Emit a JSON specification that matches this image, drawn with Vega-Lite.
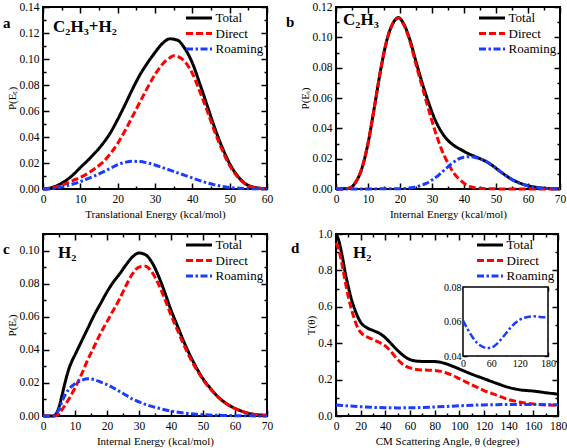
{
  "$schema": "https://vega.github.io/schema/vega-lite/v6.json",
  "padding": {"left": 2, "top": 0, "right": 0, "bottom": 0},
  "bounds": "flush",
  "columns": 2,
  "spacing": {"column": 69, "row": 45},
  "resolve": {"legend": {"color": "independent", "strokeDash": "independent"}, "scale": {"color": "independent", "strokeDash": "independent"}},
  "config": {
    "font": "Liberation Serif",
    "view": {"stroke": "#000", "strokeWidth": 2},
    "axis": {"labelFont": "Liberation Serif", "labelFontSize": 11.5, "labelColor": "#000", "titleFont": "Liberation Serif", "titleFontSize": 11, "titleFontWeight": "normal", "titleColor": "#000", "domain": false, "grid": false, "tickColor": "#000", "tickWidth": 1.5, "labelPadding": 10, "titlePadding": 1, "labelOverlap": false, "labelFlush": false},
    "axisTop": {"labels": false},
    "axisRight": {"labels": false},
    "legend": {"labelFont": "Liberation Serif", "labelFontSize": 13, "labelColor": "#000", "symbolType": "M-2,0H2", "symbolStrokeWidth": 3, "symbolSize": 169, "rowPadding": 0.5, "labelOffset": 8.5, "padding": 0, "offset": 3},
    "text": {"font": "Liberation Serif", "fontWeight": "bold", "align": "left", "baseline": "middle"}
  },
  "datasets": {
    "a": [
      {"x":0,"y":0,"s":"Total"},{"x":2,"y":0.0008,"s":"Total"},{"x":4,"y":0.003,"s":"Total"},{"x":6,"y":0.0062,"s":"Total"},{"x":8,"y":0.0108,"s":"Total"},{"x":10,"y":0.0165,"s":"Total"},{"x":12,"y":0.022,"s":"Total"},{"x":14,"y":0.028,"s":"Total"},{"x":16,"y":0.0348,"s":"Total"},{"x":18,"y":0.043,"s":"Total"},{"x":20,"y":0.0535,"s":"Total"},{"x":22,"y":0.065,"s":"Total"},{"x":24,"y":0.077,"s":"Total"},{"x":26,"y":0.088,"s":"Total"},{"x":28,"y":0.097,"s":"Total"},{"x":30,"y":0.105,"s":"Total"},{"x":32,"y":0.112,"s":"Total"},{"x":34,"y":0.1155,"s":"Total"},{"x":36,"y":0.1145,"s":"Total"},{"x":38,"y":0.108,"s":"Total"},{"x":40,"y":0.097,"s":"Total"},{"x":42,"y":0.081,"s":"Total"},{"x":44,"y":0.064,"s":"Total"},{"x":46,"y":0.047,"s":"Total"},{"x":48,"y":0.032,"s":"Total"},{"x":50,"y":0.0195,"s":"Total"},{"x":52,"y":0.0105,"s":"Total"},{"x":54,"y":0.0045,"s":"Total"},{"x":56,"y":0.0017,"s":"Total"},{"x":58,"y":0.0006,"s":"Total"},{"x":60,"y":0.0002,"s":"Total"},
      {"x":0,"y":0,"s":"Direct"},{"x":2,"y":0.0005,"s":"Direct"},{"x":4,"y":0.002,"s":"Direct"},{"x":6,"y":0.004,"s":"Direct"},{"x":8,"y":0.0065,"s":"Direct"},{"x":10,"y":0.009,"s":"Direct"},{"x":12,"y":0.012,"s":"Direct"},{"x":14,"y":0.016,"s":"Direct"},{"x":16,"y":0.0205,"s":"Direct"},{"x":18,"y":0.027,"s":"Direct"},{"x":20,"y":0.035,"s":"Direct"},{"x":22,"y":0.045,"s":"Direct"},{"x":24,"y":0.056,"s":"Direct"},{"x":26,"y":0.067,"s":"Direct"},{"x":28,"y":0.078,"s":"Direct"},{"x":30,"y":0.088,"s":"Direct"},{"x":32,"y":0.096,"s":"Direct"},{"x":34,"y":0.101,"s":"Direct"},{"x":35,"y":0.1025,"s":"Direct"},{"x":36,"y":0.102,"s":"Direct"},{"x":38,"y":0.098,"s":"Direct"},{"x":40,"y":0.089,"s":"Direct"},{"x":42,"y":0.075,"s":"Direct"},{"x":44,"y":0.06,"s":"Direct"},{"x":46,"y":0.044,"s":"Direct"},{"x":48,"y":0.03,"s":"Direct"},{"x":50,"y":0.018,"s":"Direct"},{"x":52,"y":0.0098,"s":"Direct"},{"x":54,"y":0.0042,"s":"Direct"},{"x":56,"y":0.0015,"s":"Direct"},{"x":58,"y":0.0005,"s":"Direct"},{"x":60,"y":0.0002,"s":"Direct"},
      {"x":0,"y":0,"s":"Roaming"},{"x":2,"y":0.0003,"s":"Roaming"},{"x":4,"y":0.001,"s":"Roaming"},{"x":6,"y":0.0022,"s":"Roaming"},{"x":8,"y":0.0038,"s":"Roaming"},{"x":10,"y":0.0057,"s":"Roaming"},{"x":12,"y":0.0079,"s":"Roaming"},{"x":14,"y":0.0103,"s":"Roaming"},{"x":16,"y":0.013,"s":"Roaming"},{"x":18,"y":0.0158,"s":"Roaming"},{"x":20,"y":0.0187,"s":"Roaming"},{"x":22,"y":0.0205,"s":"Roaming"},{"x":24,"y":0.0213,"s":"Roaming"},{"x":26,"y":0.0211,"s":"Roaming"},{"x":28,"y":0.02,"s":"Roaming"},{"x":30,"y":0.0185,"s":"Roaming"},{"x":32,"y":0.0165,"s":"Roaming"},{"x":34,"y":0.0145,"s":"Roaming"},{"x":36,"y":0.0125,"s":"Roaming"},{"x":38,"y":0.0105,"s":"Roaming"},{"x":40,"y":0.0085,"s":"Roaming"},{"x":42,"y":0.0065,"s":"Roaming"},{"x":44,"y":0.0047,"s":"Roaming"},{"x":46,"y":0.0032,"s":"Roaming"},{"x":48,"y":0.002,"s":"Roaming"},{"x":50,"y":0.0012,"s":"Roaming"},{"x":52,"y":0.0007,"s":"Roaming"},{"x":54,"y":0.0004,"s":"Roaming"},{"x":56,"y":0.0002,"s":"Roaming"},{"x":58,"y":0.0001,"s":"Roaming"},{"x":60,"y":0,"s":"Roaming"}
    ],
    "b": [
      {"x":0,"y":0,"s":"Total"},{"x":4,"y":0.0005,"s":"Total"},{"x":5,"y":0.0015,"s":"Total"},{"x":6,"y":0.004,"s":"Total"},{"x":8,"y":0.013,"s":"Total"},{"x":10,"y":0.03,"s":"Total"},{"x":12,"y":0.054,"s":"Total"},{"x":14,"y":0.079,"s":"Total"},{"x":16,"y":0.099,"s":"Total"},{"x":18,"y":0.11,"s":"Total"},{"x":19.5,"y":0.113,"s":"Total"},{"x":21,"y":0.1095,"s":"Total"},{"x":23,"y":0.099,"s":"Total"},{"x":25,"y":0.084,"s":"Total"},{"x":27,"y":0.0695,"s":"Total"},{"x":29,"y":0.0565,"s":"Total"},{"x":31,"y":0.0455,"s":"Total"},{"x":33,"y":0.0375,"s":"Total"},{"x":35,"y":0.032,"s":"Total"},{"x":37,"y":0.0285,"s":"Total"},{"x":39,"y":0.026,"s":"Total"},{"x":41,"y":0.0237,"s":"Total"},{"x":43,"y":0.0218,"s":"Total"},{"x":45,"y":0.02,"s":"Total"},{"x":47,"y":0.018,"s":"Total"},{"x":49,"y":0.0153,"s":"Total"},{"x":51,"y":0.012,"s":"Total"},{"x":53,"y":0.009,"s":"Total"},{"x":55,"y":0.0063,"s":"Total"},{"x":58,"y":0.0035,"s":"Total"},{"x":60,"y":0.0022,"s":"Total"},{"x":62,"y":0.0013,"s":"Total"},{"x":65,"y":0.0005,"s":"Total"},{"x":70,"y":0.0001,"s":"Total"},
      {"x":0,"y":0,"s":"Direct"},{"x":4,"y":0.0005,"s":"Direct"},{"x":5,"y":0.0015,"s":"Direct"},{"x":6,"y":0.004,"s":"Direct"},{"x":8,"y":0.013,"s":"Direct"},{"x":10,"y":0.03,"s":"Direct"},{"x":12,"y":0.054,"s":"Direct"},{"x":14,"y":0.079,"s":"Direct"},{"x":16,"y":0.099,"s":"Direct"},{"x":18,"y":0.11,"s":"Direct"},{"x":19.5,"y":0.1128,"s":"Direct"},{"x":21,"y":0.109,"s":"Direct"},{"x":23,"y":0.098,"s":"Direct"},{"x":25,"y":0.082,"s":"Direct"},{"x":27,"y":0.067,"s":"Direct"},{"x":29,"y":0.052,"s":"Direct"},{"x":31,"y":0.038,"s":"Direct"},{"x":33,"y":0.026,"s":"Direct"},{"x":35,"y":0.017,"s":"Direct"},{"x":37,"y":0.01,"s":"Direct"},{"x":39,"y":0.0055,"s":"Direct"},{"x":41,"y":0.0025,"s":"Direct"},{"x":43,"y":0.001,"s":"Direct"},{"x":46,"y":0.0003,"s":"Direct"},{"x":50,"y":0.0001,"s":"Direct"},{"x":55,"y":0,"s":"Direct"},{"x":70,"y":0,"s":"Direct"},
      {"x":0,"y":0,"s":"Roaming"},{"x":20,"y":0.0002,"s":"Roaming"},{"x":24,"y":0.001,"s":"Roaming"},{"x":26,"y":0.002,"s":"Roaming"},{"x":28,"y":0.0035,"s":"Roaming"},{"x":30,"y":0.006,"s":"Roaming"},{"x":32,"y":0.009,"s":"Roaming"},{"x":34,"y":0.0128,"s":"Roaming"},{"x":36,"y":0.0165,"s":"Roaming"},{"x":38,"y":0.0195,"s":"Roaming"},{"x":40,"y":0.021,"s":"Roaming"},{"x":42,"y":0.0213,"s":"Roaming"},{"x":44,"y":0.0205,"s":"Roaming"},{"x":46,"y":0.019,"s":"Roaming"},{"x":48,"y":0.0168,"s":"Roaming"},{"x":50,"y":0.0138,"s":"Roaming"},{"x":52,"y":0.0105,"s":"Roaming"},{"x":54,"y":0.0075,"s":"Roaming"},{"x":56,"y":0.005,"s":"Roaming"},{"x":58,"y":0.0033,"s":"Roaming"},{"x":60,"y":0.002,"s":"Roaming"},{"x":62,"y":0.0012,"s":"Roaming"},{"x":65,"y":0.0005,"s":"Roaming"},{"x":70,"y":0.0001,"s":"Roaming"}
    ],
    "c": [
      {"x":0,"y":0,"s":"Total"},{"x":3,"y":0,"s":"Total"},{"x":4,"y":0.001,"s":"Total"},{"x":5,"y":0.0055,"s":"Total"},{"x":6,"y":0.013,"s":"Total"},{"x":7,"y":0.021,"s":"Total"},{"x":8,"y":0.028,"s":"Total"},{"x":9,"y":0.033,"s":"Total"},{"x":10,"y":0.037,"s":"Total"},{"x":12,"y":0.045,"s":"Total"},{"x":14,"y":0.053,"s":"Total"},{"x":16,"y":0.061,"s":"Total"},{"x":18,"y":0.068,"s":"Total"},{"x":20,"y":0.075,"s":"Total"},{"x":22,"y":0.081,"s":"Total"},{"x":24,"y":0.086,"s":"Total"},{"x":26,"y":0.0915,"s":"Total"},{"x":28,"y":0.0962,"s":"Total"},{"x":30,"y":0.0985,"s":"Total"},{"x":32,"y":0.0975,"s":"Total"},{"x":34,"y":0.093,"s":"Total"},{"x":36,"y":0.085,"s":"Total"},{"x":38,"y":0.075,"s":"Total"},{"x":40,"y":0.064,"s":"Total"},{"x":42,"y":0.0545,"s":"Total"},{"x":44,"y":0.045,"s":"Total"},{"x":46,"y":0.0365,"s":"Total"},{"x":48,"y":0.029,"s":"Total"},{"x":50,"y":0.0225,"s":"Total"},{"x":52,"y":0.0175,"s":"Total"},{"x":55,"y":0.011,"s":"Total"},{"x":58,"y":0.0067,"s":"Total"},{"x":60,"y":0.0046,"s":"Total"},{"x":62,"y":0.003,"s":"Total"},{"x":65,"y":0.0013,"s":"Total"},{"x":68,"y":0.0006,"s":"Total"},{"x":70,"y":0.0004,"s":"Total"},
      {"x":0,"y":0,"s":"Direct"},{"x":4,"y":0,"s":"Direct"},{"x":5,"y":0.0015,"s":"Direct"},{"x":6,"y":0.004,"s":"Direct"},{"x":8,"y":0.01,"s":"Direct"},{"x":10,"y":0.017,"s":"Direct"},{"x":12,"y":0.025,"s":"Direct"},{"x":14,"y":0.034,"s":"Direct"},{"x":16,"y":0.042,"s":"Direct"},{"x":18,"y":0.05,"s":"Direct"},{"x":20,"y":0.057,"s":"Direct"},{"x":22,"y":0.064,"s":"Direct"},{"x":24,"y":0.071,"s":"Direct"},{"x":26,"y":0.079,"s":"Direct"},{"x":28,"y":0.086,"s":"Direct"},{"x":30,"y":0.09,"s":"Direct"},{"x":32,"y":0.0905,"s":"Direct"},{"x":34,"y":0.087,"s":"Direct"},{"x":36,"y":0.08,"s":"Direct"},{"x":38,"y":0.071,"s":"Direct"},{"x":40,"y":0.061,"s":"Direct"},{"x":42,"y":0.052,"s":"Direct"},{"x":44,"y":0.043,"s":"Direct"},{"x":46,"y":0.035,"s":"Direct"},{"x":48,"y":0.028,"s":"Direct"},{"x":50,"y":0.022,"s":"Direct"},{"x":52,"y":0.017,"s":"Direct"},{"x":55,"y":0.011,"s":"Direct"},{"x":58,"y":0.0065,"s":"Direct"},{"x":60,"y":0.0045,"s":"Direct"},{"x":62,"y":0.003,"s":"Direct"},{"x":65,"y":0.0013,"s":"Direct"},{"x":68,"y":0.0006,"s":"Direct"},{"x":70,"y":0.0004,"s":"Direct"},
      {"x":0,"y":0,"s":"Roaming"},{"x":3,"y":0,"s":"Roaming"},{"x":4,"y":0.001,"s":"Roaming"},{"x":5,"y":0.004,"s":"Roaming"},{"x":6,"y":0.009,"s":"Roaming"},{"x":7,"y":0.013,"s":"Roaming"},{"x":8,"y":0.016,"s":"Roaming"},{"x":10,"y":0.0195,"s":"Roaming"},{"x":12,"y":0.0215,"s":"Roaming"},{"x":14,"y":0.0225,"s":"Roaming"},{"x":16,"y":0.022,"s":"Roaming"},{"x":18,"y":0.0205,"s":"Roaming"},{"x":20,"y":0.019,"s":"Roaming"},{"x":22,"y":0.017,"s":"Roaming"},{"x":24,"y":0.0148,"s":"Roaming"},{"x":26,"y":0.0125,"s":"Roaming"},{"x":28,"y":0.0102,"s":"Roaming"},{"x":30,"y":0.0085,"s":"Roaming"},{"x":32,"y":0.007,"s":"Roaming"},{"x":34,"y":0.0058,"s":"Roaming"},{"x":36,"y":0.0048,"s":"Roaming"},{"x":38,"y":0.0038,"s":"Roaming"},{"x":40,"y":0.003,"s":"Roaming"},{"x":44,"y":0.0018,"s":"Roaming"},{"x":48,"y":0.001,"s":"Roaming"},{"x":52,"y":0.0006,"s":"Roaming"},{"x":56,"y":0.0003,"s":"Roaming"},{"x":60,"y":0.0002,"s":"Roaming"},{"x":65,"y":0.0001,"s":"Roaming"},{"x":70,"y":0,"s":"Roaming"}
    ],
    "d": [
      {"x":0,"y":1,"s":"Total"},{"x":2,"y":0.97,"s":"Total"},{"x":5,"y":0.88,"s":"Total"},{"x":8,"y":0.77,"s":"Total"},{"x":10,"y":0.71,"s":"Total"},{"x":12,"y":0.655,"s":"Total"},{"x":15,"y":0.59,"s":"Total"},{"x":18,"y":0.54,"s":"Total"},{"x":20,"y":0.515,"s":"Total"},{"x":25,"y":0.485,"s":"Total"},{"x":30,"y":0.47,"s":"Total"},{"x":35,"y":0.455,"s":"Total"},{"x":40,"y":0.43,"s":"Total"},{"x":45,"y":0.395,"s":"Total"},{"x":50,"y":0.36,"s":"Total"},{"x":55,"y":0.33,"s":"Total"},{"x":60,"y":0.31,"s":"Total"},{"x":65,"y":0.302,"s":"Total"},{"x":70,"y":0.3,"s":"Total"},{"x":75,"y":0.3,"s":"Total"},{"x":80,"y":0.299,"s":"Total"},{"x":85,"y":0.295,"s":"Total"},{"x":90,"y":0.285,"s":"Total"},{"x":95,"y":0.272,"s":"Total"},{"x":100,"y":0.258,"s":"Total"},{"x":110,"y":0.23,"s":"Total"},{"x":120,"y":0.205,"s":"Total"},{"x":130,"y":0.18,"s":"Total"},{"x":140,"y":0.157,"s":"Total"},{"x":150,"y":0.143,"s":"Total"},{"x":160,"y":0.137,"s":"Total"},{"x":170,"y":0.128,"s":"Total"},{"x":180,"y":0.12,"s":"Total"},
      {"x":0,"y":0.95,"s":"Direct"},{"x":2,"y":0.92,"s":"Direct"},{"x":5,"y":0.83,"s":"Direct"},{"x":8,"y":0.72,"s":"Direct"},{"x":10,"y":0.655,"s":"Direct"},{"x":12,"y":0.6,"s":"Direct"},{"x":15,"y":0.53,"s":"Direct"},{"x":18,"y":0.48,"s":"Direct"},{"x":20,"y":0.46,"s":"Direct"},{"x":25,"y":0.435,"s":"Direct"},{"x":30,"y":0.42,"s":"Direct"},{"x":35,"y":0.405,"s":"Direct"},{"x":40,"y":0.385,"s":"Direct"},{"x":45,"y":0.35,"s":"Direct"},{"x":50,"y":0.31,"s":"Direct"},{"x":55,"y":0.28,"s":"Direct"},{"x":60,"y":0.264,"s":"Direct"},{"x":65,"y":0.256,"s":"Direct"},{"x":70,"y":0.253,"s":"Direct"},{"x":75,"y":0.252,"s":"Direct"},{"x":80,"y":0.25,"s":"Direct"},{"x":85,"y":0.245,"s":"Direct"},{"x":90,"y":0.235,"s":"Direct"},{"x":95,"y":0.222,"s":"Direct"},{"x":100,"y":0.205,"s":"Direct"},{"x":110,"y":0.172,"s":"Direct"},{"x":120,"y":0.14,"s":"Direct"},{"x":130,"y":0.115,"s":"Direct"},{"x":140,"y":0.09,"s":"Direct"},{"x":150,"y":0.075,"s":"Direct"},{"x":160,"y":0.066,"s":"Direct"},{"x":170,"y":0.061,"s":"Direct"},{"x":180,"y":0.058,"s":"Direct"},
      {"x":0,"y":0.0605,"s":"Roaming"},{"x":10,"y":0.0555,"s":"Roaming"},{"x":20,"y":0.051,"s":"Roaming"},{"x":30,"y":0.0475,"s":"Roaming"},{"x":40,"y":0.0456,"s":"Roaming"},{"x":50,"y":0.0446,"s":"Roaming"},{"x":60,"y":0.0449,"s":"Roaming"},{"x":70,"y":0.0466,"s":"Roaming"},{"x":80,"y":0.0495,"s":"Roaming"},{"x":90,"y":0.0528,"s":"Roaming"},{"x":100,"y":0.0562,"s":"Roaming"},{"x":110,"y":0.059,"s":"Roaming"},{"x":120,"y":0.061,"s":"Roaming"},{"x":130,"y":0.0622,"s":"Roaming"},{"x":140,"y":0.0628,"s":"Roaming"},{"x":150,"y":0.063,"s":"Roaming"},{"x":160,"y":0.0628,"s":"Roaming"},{"x":170,"y":0.0625,"s":"Roaming"},{"x":180,"y":0.0625,"s":"Roaming"}
    ]
  },
  "concat": [
    {
      "width": 224, "height": 182,
      "layer": [
        {"data": {"name": "a"}, "mark": {"type": "line", "interpolate": "monotone", "strokeWidth": 3},
         "encoding": {
           "x": {"field": "x", "type": "quantitative", "scale": {"domain": [0, 60], "nice": false}, "axis": {"orient": "bottom", "values": [0,5,10,15,20,25,30,35,40,45,50,55,60], "tickSize": {"condition": {"test": "datum.value % 10 !== 0", "value": -3}, "value": -6}, "labelExpr": "datum.value % 10 === 0 ? datum.label : ''", "labelPadding": 10, "title": "Translational Energy (kcal/mol)"}},
           "y": {"field": "y", "type": "quantitative", "scale": {"domain": [0, 0.14], "nice": false}, "axis": {"orient": "left", "values": [0,0.01,0.02,0.03,0.04,0.05,0.06,0.07,0.08,0.09,0.1,0.11,0.12,0.13,0.14], "format": ".2f", "tickSize": {"condition": {"test": "round(datum.value*100) % 2 !== 0", "value": -3}, "value": -6}, "labelExpr": "round(datum.value*100) % 2 === 0 ? datum.label : ''", "title": "P(Eₜ)"}},
           "color": {"field": "s", "type": "nominal", "scale": {"domain": ["Total", "Direct", "Roaming"], "range": ["#000000", "#ff0000", "#1a3cff"]}, "legend": {"title": null, "orient": "top-right"}},
           "strokeDash": {"field": "s", "type": "nominal", "scale": {"domain": ["Total", "Direct", "Roaming"], "range": [[1, 0], [7, 3], [7, 2.5, 2.5, 2.5]]}, "legend": {"title": null, "orient": "top-right"}}
         }},
        {"data": {"name": "a"}, "mark": {"type": "point", "opacity": 0},
         "encoding": {
           "x": {"field": "x", "type": "quantitative", "scale": {"domain": [0, 60], "nice": false}, "axis": {"orient": "top", "title": null, "values": [0,5,10,15,20,25,30,35,40,45,50,55,60], "tickSize": {"condition": {"test": "datum.value % 10 !== 0", "value": -3}, "value": -6}}},
           "y": {"field": "y", "type": "quantitative", "scale": {"domain": [0, 0.14], "nice": false}, "axis": {"orient": "right", "title": null, "values": [0,0.01,0.02,0.03,0.04,0.05,0.06,0.07,0.08,0.09,0.1,0.11,0.12,0.13,0.14], "tickSize": {"condition": {"test": "round(datum.value*100) % 2 !== 0", "value": -3}, "value": -6}}}
         }},
        {"data": {"values": [{"t": "a"}]}, "mark": {"type": "text", "fontSize": 15},
         "encoding": {"x": {"datum": -10.7, "type": "quantitative", "scale": {"domain": [0, 60], "nice": false}, "axis": null}, "y": {"datum": 0.128, "type": "quantitative", "scale": {"domain": [0, 0.14], "nice": false}, "axis": null}, "text": {"field": "t"}}},
        {"data": {"values": [{"t": "C₂H₃+H₂"}]}, "mark": {"type": "text", "fontSize": 17},
         "encoding": {"x": {"datum": 2.7, "type": "quantitative", "scale": {"domain": [0, 60], "nice": false}, "axis": null}, "y": {"datum": 0.125, "type": "quantitative", "scale": {"domain": [0, 0.14], "nice": false}, "axis": null}, "text": {"field": "t"}}}
      ],
      "resolve": {"axis": {"x": "independent", "y": "independent"}}
    },
    {
      "width": 224, "height": 182,
      "layer": [
        {"data": {"name": "b"}, "mark": {"type": "line", "interpolate": "monotone", "strokeWidth": 3},
         "encoding": {
           "x": {"field": "x", "type": "quantitative", "scale": {"domain": [0, 70], "nice": false}, "axis": {"orient": "bottom", "values": [0,5,10,15,20,25,30,35,40,45,50,55,60,65,70], "tickSize": {"condition": {"test": "datum.value % 10 !== 0", "value": -3}, "value": -6}, "labelExpr": "datum.value % 10 === 0 ? datum.label : ''", "labelPadding": 10, "title": "Internal Energy (kcal/mol)"}},
           "y": {"field": "y", "type": "quantitative", "scale": {"domain": [0, 0.12], "nice": false}, "axis": {"orient": "left", "values": [0,0.01,0.02,0.03,0.04,0.05,0.06,0.07,0.08,0.09,0.1,0.11,0.12], "format": ".2f", "tickSize": {"condition": {"test": "round(datum.value*100) % 2 !== 0", "value": -3}, "value": -6}, "labelExpr": "round(datum.value*100) % 2 === 0 ? datum.label : ''", "title": "P(Eᵢ)"}},
           "color": {"field": "s", "type": "nominal", "scale": {"domain": ["Total", "Direct", "Roaming"], "range": ["#000000", "#ff0000", "#1a3cff"]}, "legend": {"title": null, "orient": "top-right"}},
           "strokeDash": {"field": "s", "type": "nominal", "scale": {"domain": ["Total", "Direct", "Roaming"], "range": [[1, 0], [7, 3], [7, 2.5, 2.5, 2.5]]}, "legend": {"title": null, "orient": "top-right"}}
         }},
        {"data": {"name": "b"}, "mark": {"type": "point", "opacity": 0},
         "encoding": {
           "x": {"field": "x", "type": "quantitative", "scale": {"domain": [0, 70], "nice": false}, "axis": {"orient": "top", "title": null, "values": [0,5,10,15,20,25,30,35,40,45,50,55,60,65,70], "tickSize": {"condition": {"test": "datum.value % 10 !== 0", "value": -3}, "value": -6}}},
           "y": {"field": "y", "type": "quantitative", "scale": {"domain": [0, 0.12], "nice": false}, "axis": {"orient": "right", "title": null, "values": [0,0.01,0.02,0.03,0.04,0.05,0.06,0.07,0.08,0.09,0.1,0.11,0.12], "tickSize": {"condition": {"test": "round(datum.value*100) % 2 !== 0", "value": -3}, "value": -6}}}
         }},
        {"data": {"values": [{"t": "b"}]}, "mark": {"type": "text", "fontSize": 15},
         "encoding": {"x": {"datum": -15.6, "type": "quantitative", "scale": {"domain": [0, 70], "nice": false}, "axis": null}, "y": {"datum": 0.11, "type": "quantitative", "scale": {"domain": [0, 0.12], "nice": false}, "axis": null}, "text": {"field": "t"}}},
        {"data": {"values": [{"t": "C₂H₃"}]}, "mark": {"type": "text", "fontSize": 17},
         "encoding": {"x": {"datum": 2.2, "type": "quantitative", "scale": {"domain": [0, 70], "nice": false}, "axis": null}, "y": {"datum": 0.1114, "type": "quantitative", "scale": {"domain": [0, 0.12], "nice": false}, "axis": null}, "text": {"field": "t"}}}
      ],
      "resolve": {"axis": {"x": "independent", "y": "independent"}}
    },
    {
      "width": 224, "height": 182,
      "layer": [
        {"data": {"name": "c"}, "mark": {"type": "line", "interpolate": "monotone", "strokeWidth": 3},
         "encoding": {
           "x": {"field": "x", "type": "quantitative", "scale": {"domain": [0, 70], "nice": false}, "axis": {"orient": "bottom", "values": [0,5,10,15,20,25,30,35,40,45,50,55,60,65,70], "tickSize": {"condition": {"test": "datum.value % 10 !== 0", "value": -3}, "value": -6}, "labelExpr": "datum.value % 10 === 0 ? datum.label : ''", "labelPadding": 10, "title": "Internal Energy (kcal/mol)"}},
           "y": {"field": "y", "type": "quantitative", "scale": {"domain": [0, 0.11], "nice": false}, "axis": {"orient": "left", "values": [0,0.01,0.02,0.03,0.04,0.05,0.06,0.07,0.08,0.09,0.1,0.11], "format": ".2f", "tickSize": {"condition": {"test": "round(datum.value*100) % 2 !== 0", "value": -3}, "value": -6}, "labelExpr": "round(datum.value*100) % 2 === 0 ? datum.label : ''", "title": "P(Eᵢ)"}},
           "color": {"field": "s", "type": "nominal", "scale": {"domain": ["Total", "Direct", "Roaming"], "range": ["#000000", "#ff0000", "#1a3cff"]}, "legend": {"title": null, "orient": "top-right"}},
           "strokeDash": {"field": "s", "type": "nominal", "scale": {"domain": ["Total", "Direct", "Roaming"], "range": [[1, 0], [7, 3], [7, 2.5, 2.5, 2.5]]}, "legend": {"title": null, "orient": "top-right"}}
         }},
        {"data": {"name": "c"}, "mark": {"type": "point", "opacity": 0},
         "encoding": {
           "x": {"field": "x", "type": "quantitative", "scale": {"domain": [0, 70], "nice": false}, "axis": {"orient": "top", "title": null, "values": [0,5,10,15,20,25,30,35,40,45,50,55,60,65,70], "tickSize": {"condition": {"test": "datum.value % 10 !== 0", "value": -3}, "value": -6}}},
           "y": {"field": "y", "type": "quantitative", "scale": {"domain": [0, 0.11], "nice": false}, "axis": {"orient": "right", "title": null, "values": [0,0.01,0.02,0.03,0.04,0.05,0.06,0.07,0.08,0.09,0.1,0.11], "tickSize": {"condition": {"test": "round(datum.value*100) % 2 !== 0", "value": -3}, "value": -6}}}
         }},
        {"data": {"values": [{"t": "c"}]}, "mark": {"type": "text", "fontSize": 15},
         "encoding": {"x": {"datum": -12.5, "type": "quantitative", "scale": {"domain": [0, 70], "nice": false}, "axis": null}, "y": {"datum": 0.101, "type": "quantitative", "scale": {"domain": [0, 0.11], "nice": false}, "axis": null}, "text": {"field": "t"}}},
        {"data": {"values": [{"t": "H₂"}]}, "mark": {"type": "text", "fontSize": 17},
         "encoding": {"x": {"datum": 4.7, "type": "quantitative", "scale": {"domain": [0, 70], "nice": false}, "axis": null}, "y": {"datum": 0.0985, "type": "quantitative", "scale": {"domain": [0, 0.11], "nice": false}, "axis": null}, "text": {"field": "t"}}}
      ],
      "resolve": {"axis": {"x": "independent", "y": "independent"}}
    },
    {
      "width": 222, "height": 182,
      "layer": [
        {
          "layer": [
            {"data": {"name": "d"}, "mark": {"type": "line", "interpolate": "monotone", "strokeWidth": 3},
             "encoding": {
               "x": {"field": "x", "type": "quantitative", "scale": {"domain": [0, 180], "nice": false}, "axis": {"orient": "bottom", "values": [0,10,20,30,40,50,60,70,80,90,100,110,120,130,140,150,160,170,180], "tickSize": {"condition": {"test": "datum.value % 20 !== 0", "value": -3}, "value": -6}, "labelExpr": "datum.value % 20 === 0 ? datum.label : ''", "labelPadding": 10, "title": "CM Scattering Angle,  θ (degree)"}},
               "y": {"field": "y", "type": "quantitative", "scale": {"domain": [0, 1], "nice": false}, "axis": {"orient": "left", "values": [0,0.1,0.2,0.3,0.4,0.5,0.6,0.7,0.8,0.9,1], "format": ".1f", "tickSize": {"condition": {"test": "round(datum.value*10) % 2 !== 0", "value": -3}, "value": -6}, "labelExpr": "round(datum.value*10) % 2 === 0 ? datum.label : ''", "title": "T(θ)"}},
               "color": {"field": "s", "type": "nominal", "scale": {"domain": ["Total", "Direct", "Roaming"], "range": ["#000000", "#ff0000", "#1a3cff"]}, "legend": {"title": null, "orient": "top-right"}},
               "strokeDash": {"field": "s", "type": "nominal", "scale": {"domain": ["Total", "Direct", "Roaming"], "range": [[1, 0], [7, 3], [7, 2.5, 2.5, 2.5]]}, "legend": {"title": null, "orient": "top-right"}}
             }},
            {"data": {"name": "d"}, "mark": {"type": "point", "opacity": 0},
             "encoding": {
               "x": {"field": "x", "type": "quantitative", "scale": {"domain": [0, 180], "nice": false}, "axis": {"orient": "top", "title": null, "values": [0,10,20,30,40,50,60,70,80,90,100,110,120,130,140,150,160,170,180], "tickSize": {"condition": {"test": "datum.value % 20 !== 0", "value": -3}, "value": -6}}},
               "y": {"field": "y", "type": "quantitative", "scale": {"domain": [0, 1], "nice": false}, "axis": {"orient": "right", "title": null, "values": [0,0.1,0.2,0.3,0.4,0.5,0.6,0.7,0.8,0.9,1], "tickSize": {"condition": {"test": "round(datum.value*10) % 2 !== 0", "value": -3}, "value": -6}}}
             }},
            {"data": {"values": [{"t": "d"}]}, "mark": {"type": "text", "fontSize": 15},
             "encoding": {"x": {"datum": -36.5, "type": "quantitative", "scale": {"domain": [0, 180], "nice": false}, "axis": null}, "y": {"datum": 0.923, "type": "quantitative", "scale": {"domain": [0, 1], "nice": false}, "axis": null}, "text": {"field": "t"}}},
            {"data": {"values": [{"t": "H₂"}]}, "mark": {"type": "text", "fontSize": 17},
             "encoding": {"x": {"datum": 13.8, "type": "quantitative", "scale": {"domain": [0, 180], "nice": false}, "axis": null}, "y": {"datum": 0.896, "type": "quantitative", "scale": {"domain": [0, 1], "nice": false}, "axis": null}, "text": {"field": "t"}}}
          ],
          "resolve": {"axis": {"x": "independent", "y": "independent"}}
        },
        {
          "layer": [
            {"data": {"values": [{"box": "inset"}]}, "mark": {"type": "rect", "fill": "#ffffff", "stroke": "#000000", "strokeWidth": 1.5},
             "encoding": {
               "x": {"datum": 0, "type": "quantitative", "scale": {"domain": [0, 180], "range": [127, 212], "nice": false}, "axis": {"orient": "bottom", "offset": -60, "values": [0,30,60,90,120,150,180], "tickSize": {"condition": {"test": "datum.value % 60 !== 0", "value": -2}, "value": -4}, "labelExpr": "datum.value % 60 === 0 ? datum.label : ''", "labelFontSize": 10, "labelPadding": 6, "title": null}},
               "x2": {"datum": 180},
               "y": {"datum": 0.04, "type": "quantitative", "scale": {"domain": [0.04, 0.08], "range": [122, 53], "nice": false, "zero": false}, "axis": {"orient": "left", "offset": -127, "values": [0.04,0.05,0.06,0.07,0.08], "format": ".2f", "tickSize": {"condition": {"test": "round(datum.value*100) % 2 !== 0", "value": -2}, "value": -4}, "labelExpr": "round(datum.value*100) % 2 === 0 ? datum.label : ''", "labelFontSize": 10, "labelPadding": 6, "title": null}},
               "y2": {"datum": 0.08}
             }},
            {"data": {"name": "d"}, "transform": [{"filter": "datum.s === 'Roaming'"}], "mark": {"type": "line", "interpolate": "monotone", "strokeWidth": 2.5, "color": "#1a3cff", "strokeDash": [7, 2.5, 2.5, 2.5]},
             "encoding": {
               "x": {"field": "x", "type": "quantitative", "scale": {"domain": [0, 180], "range": [127, 212], "nice": false}, "axis": null},
               "y": {"field": "y", "type": "quantitative", "scale": {"domain": [0.04, 0.08], "range": [122, 53], "nice": false, "zero": false}, "axis": null}
             }},
            {"data": {"name": "d"}, "transform": [{"filter": "datum.s === 'Roaming'"}], "mark": {"type": "point", "opacity": 0},
             "encoding": {
               "x": {"field": "x", "type": "quantitative", "scale": {"domain": [0, 180], "range": [127, 212], "nice": false}, "axis": {"orient": "top", "offset": -53, "values": [0,30,60,90,120,150,180], "tickSize": {"condition": {"test": "datum.value % 60 !== 0", "value": -2}, "value": -4}, "title": null}},
               "y": {"field": "y", "type": "quantitative", "scale": {"domain": [0.04, 0.08], "range": [122, 53], "nice": false, "zero": false}, "axis": {"orient": "right", "offset": -10, "values": [0.04,0.05,0.06,0.07,0.08], "tickSize": {"condition": {"test": "round(datum.value*100) % 2 !== 0", "value": -2}, "value": -4}, "title": null}}
             }}
          ],
          "resolve": {"axis": {"x": "independent", "y": "independent"}}
        }
      ],
      "resolve": {"scale": {"x": "independent", "y": "independent"}}
    }
  ]
}
